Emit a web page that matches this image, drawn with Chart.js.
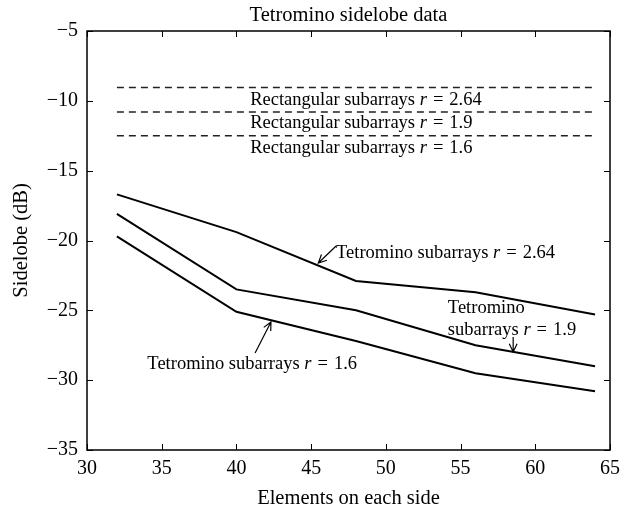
<!DOCTYPE html>
<html>
<head>
<meta charset="utf-8">
<script src="https://cdn.jsdelivr.net/npm/chart.js@4"></script>
<style>
  html, body { margin: 0; padding: 0; background: #fff; }
  canvas { display: block; }
</style>
</head>
<body>
<canvas id="chartSidelobe" width="627" height="511"></canvas>
<script>
// elements on each side
const elements = [32, 40, 48, 56, 64];

// tetromino subarrays (solid)
const tetR264 = [-16.7, -19.4, -22.9, -23.7, -25.3];
const tetR19 = [-18.1, -23.5, -25.0, -27.5, -29.0];
const tetR16 = [-19.7, -25.1, -27.2, -29.5, -30.8];

// rectangular subarrays (dashed)
const rectR264 = [-9.05, -9.05, -9.05, -9.05, -9.05];
const rectR19 = [-10.8, -10.8, -10.8, -10.8, -10.8];
const rectR16 = [-12.5, -12.5, -12.5, -12.5, -12.5];

const xTicks = [30, 35, 40, 45, 50, 55, 60, 65];
const yTicks = [-35, -30, -25, -20, -15, -10, -5];

const FONT = '"Liberation Serif", "Times New Roman", serif';

// text labels: text before the italic r, value after "=", anchored in data coords
const notes = [
    { x: 40.92, y: -9.94, pre: 'Rectangular subarrays ', val: '2.64' },
    { x: 40.92, y: -11.6, pre: 'Rectangular subarrays ', val: '1.9' },
    { x: 40.92, y: -13.38, pre: 'Rectangular subarrays ', val: '1.6' },
    { x: 46.67, y: -20.89, pre: 'Tetromino subarrays ', val: '2.64' },
    { x: 54.15, y: -24.83, pre: 'Tetromino', val: null },
    { x: 54.15, y: -26.41, pre: 'subarrays ', val: '1.9' },
    { x: 34.04, y: -28.84, pre: 'Tetromino subarrays ', val: '1.6' }
];

// arrows: from -> to (head at "to")
const arrows = [
    { x0: 46.67, y0: -20.39, x1: 45.48, y1: -21.61 },
    { x0: 58.52, y0: -26.91, x1: 58.52, y1: -27.98 },
    { x0: 41.25, y0: -28.05, x1: 42.31, y1: -25.83 }
];

const toPoints = (ys) => elements.map((x, i) => ({ x: x, y: ys[i] }));

const solid = (label, ys) => ({
    label: label,
    data: toPoints(ys),
    borderColor: '#000',
    borderWidth: 2,
    pointRadius: 0,
    tension: 0
});

const dashed = (label, ys) => ({
    label: label,
    data: toPoints(ys),
    borderColor: '#222',
    borderWidth: 1.5,
    borderDash: [7, 5],
    pointRadius: 0,
    tension: 0
});

const decor = {
    id: 'decor',
    afterDraw(chart) {
        const ctx = chart.ctx;
        const a = chart.chartArea;
        const xs = chart.scales.x;
        const ys = chart.scales.y;
        ctx.save();
        // box
        ctx.strokeStyle = '#000';
        ctx.lineWidth = 1.5;
        ctx.strokeRect(a.left, a.top, a.right - a.left, a.bottom - a.top);
        // inward ticks
        ctx.lineWidth = 1;
        ctx.beginPath();
        xTicks.forEach(v => {
            const px = Math.round(xs.getPixelForValue(v)) + 0.5;
            ctx.moveTo(px, a.bottom); ctx.lineTo(px, a.bottom - 6);
            ctx.moveTo(px, a.top); ctx.lineTo(px, a.top + 6);
        });
        yTicks.forEach(v => {
            const py = Math.round(ys.getPixelForValue(v)) + 0.5;
            ctx.moveTo(a.left, py); ctx.lineTo(a.left + 6, py);
            ctx.moveTo(a.right, py); ctx.lineTo(a.right - 6, py);
        });
        ctx.stroke();

        // title and axis titles
        ctx.fillStyle = '#000';
        ctx.font = '20.5px ' + FONT;
        ctx.textAlign = 'center';
        ctx.textBaseline = 'alphabetic';
        ctx.fillText('Tetromino sidelobe data', (a.left + a.right) / 2, 21);
        ctx.font = '20.5px ' + FONT;
        ctx.fillText('Elements on each side', (a.left + a.right) / 2, 504);
        ctx.save();
        ctx.translate(27, (a.top + a.bottom) / 2);
        ctx.rotate(-Math.PI / 2);
        ctx.fillText('Sidelobe (dB)', 0, 0);
        ctx.restore();

        // notes
        ctx.textAlign = 'left';
        ctx.textBaseline = 'middle';
        const f = '18.5px ' + FONT;
        notes.forEach(n => {
            let px = xs.getPixelForValue(n.x);
            const py = ys.getPixelForValue(n.y);
            ctx.font = f;
            ctx.fillText(n.pre, px, py);
            if (n.val === null) return;
            px += ctx.measureText(n.pre).width;
            ctx.font = 'italic ' + f;
            ctx.fillText('r', px, py);
            px += ctx.measureText('r').width + 6;
            ctx.font = f;
            ctx.fillText('=', px, py);
            px += ctx.measureText('=').width + 6;
            ctx.fillText(n.val, px, py);
        });

        // arrows
        ctx.lineWidth = 1.2;
        arrows.forEach(r => {
            const x0 = xs.getPixelForValue(r.x0), y0 = ys.getPixelForValue(r.y0);
            const x1 = xs.getPixelForValue(r.x1), y1 = ys.getPixelForValue(r.y1);
            const ang = Math.atan2(y1 - y0, x1 - x0);
            const h = 9;
            ctx.beginPath();
            ctx.moveTo(x0, y0); ctx.lineTo(x1, y1);
            ctx.moveTo(x1 - h * Math.cos(ang - 0.45), y1 - h * Math.sin(ang - 0.45));
            ctx.lineTo(x1, y1);
            ctx.lineTo(x1 - h * Math.cos(ang + 0.45), y1 - h * Math.sin(ang + 0.45));
            ctx.stroke();
        });
        ctx.restore();
    }
};

const minus = (v) => String(v).replace('-', '\u2212');

const config = {
    type: 'line',
    data: {
        datasets: [
            solid('Tetromino subarrays r = 2.64', tetR264),
            solid('Tetromino subarrays r = 1.9', tetR19),
            solid('Tetromino subarrays r = 1.6', tetR16),
            dashed('Rectangular subarrays r = 2.64', rectR264),
            dashed('Rectangular subarrays r = 1.9', rectR19),
            dashed('Rectangular subarrays r = 1.6', rectR16)
        ]
    },
    options: {
        responsive: false,
        animation: false,
        layout: { padding: { top: 31, right: 11, left: 0, bottom: 0 } },
        plugins: {
            legend: { display: false },
            tooltip: { enabled: false }
        },
        scales: {
            x: {
                type: 'linear',
                min: 30,
                max: 65,
                grid: { display: false, drawTicks: false },
                border: { display: false },
                ticks: {
                    stepSize: 5,
                    padding: 7,
                    color: '#000',
                    font: { family: FONT, size: 20 },
                    callback: minus
                },
                afterFit: (s) => { s.height = 61; }
            },
            y: {
                min: -35,
                max: -5,
                grid: { display: false, drawTicks: false },
                border: { display: false },
                ticks: {
                    stepSize: 5,
                    padding: 9,
                    color: '#000',
                    font: { family: FONT, size: 20 },
                    callback: minus
                },
                afterFit: (s) => { s.width = 87; }
            }
        }
    },
    plugins: [decor]
};

new Chart(document.getElementById('chartSidelobe'), config);
</script>
</body>
</html>
